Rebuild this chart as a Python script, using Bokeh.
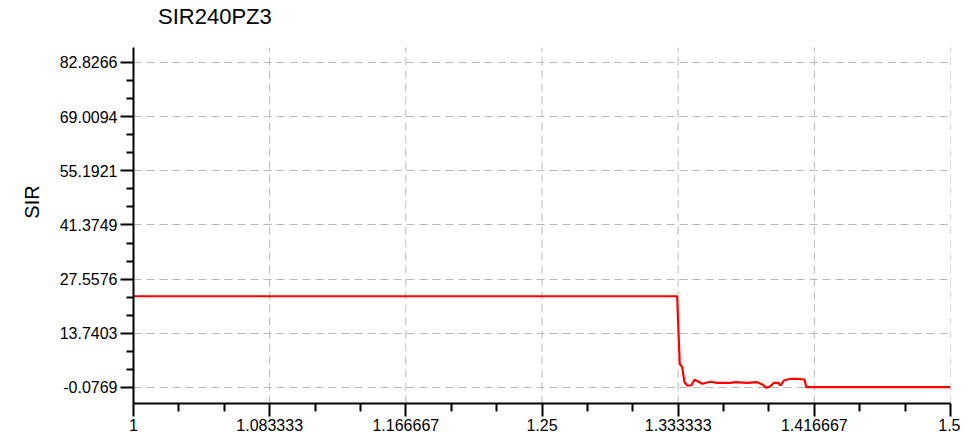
from bokeh.plotting import figure
from bokeh.models import Range1d, FixedTicker, Legend, LegendItem, CustomJSTickFormatter
from bokeh.embed import file_html
from bokeh.resources import INLINE

# data
series_name = "SIR240PZ3"
x_vals = [1.0, 1.3327, 1.3343, 1.3358, 1.3372, 1.3389, 1.3413, 1.3433, 1.3453, 1.3480,
          1.3531, 1.3572, 1.3654, 1.3684, 1.3756, 1.3817, 1.3848, 1.3874, 1.3898,
          1.3919, 1.3946, 1.3960, 1.3980, 1.4021, 1.4062, 1.4107, 1.4117, 1.5]
sir_vals = [23.2, 23.2, 5.97, 5.1, 1.28, 0.43, 0.43, 1.89, 1.53, 0.87,
            1.38, 1.12, 1.12, 1.28, 1.12, 1.28, 0.69, -0.15, 0.26,
            1.12, 1.12, 0.43, 1.71, 2.14, 2.14, 1.96, 0.0, 0.0]
x_ticks = [1.0, 1.083333, 1.166667, 1.25, 1.333333, 1.416667, 1.5]
x_tick_labels = ["1", "1.083333", "1.166667", "1.25", "1.333333", "1.416667", "1.5"]
y_ticks = [-0.0769, 13.7403, 27.5576, 41.3749, 55.1921, 69.0094, 82.8266]
y_tick_labels = ["-0.0769", "13.7403", "27.5576", "41.3749", "55.1921", "69.0094", "82.8266"]

# axis extent (value range of plotting area)
Y_LO, Y_HI = -4.16, 86.65
X_LO, X_HI = 1.0, 1.5

FONT = "Liberation Sans"

# frame extended upward to host the legend; axis/grid limited to [Y_LO, Y_HI]
FRAME_H = 403
px_per_unit = 356 / (Y_HI - Y_LO)
y_top = Y_LO + FRAME_H / px_per_unit

p = figure(frame_width=817, frame_height=FRAME_H, output_backend="svg", toolbar_location=None,
           x_range=Range1d(X_LO, X_HI), y_range=Range1d(Y_LO, y_top),
           min_border_left=133, min_border_right=10, min_border_top=0, min_border_bottom=35)
p.outline_line_color = None
p.xgrid.visible = False

# vertical dashed grid lines at x ticks (limited to axis extent)
p.segment(x0=x_ticks, y0=[Y_LO] * len(x_ticks), x1=x_ticks, y1=[Y_HI] * len(x_ticks),
          line_color="#b8b8b8", line_width=1, line_dash="8 5")

line = p.line(x_vals, sir_vals, line_color="#ff0000", line_width=2.2)
sq = p.quad(left=[], right=[], top=[], bottom=[], fill_color="#ff0000", line_color="#ff0000")

# minor ticks
x_minor = []
for i in range(len(x_ticks) - 1):
    step = (x_ticks[i + 1] - x_ticks[i]) / 3
    x_minor += [x_ticks[i] + step, x_ticks[i] + 2 * step]
y_minor = []
for i in range(len(y_ticks) - 1):
    step = (y_ticks[i + 1] - y_ticks[i]) / 3
    y_minor += [y_ticks[i] + step, y_ticks[i] + 2 * step]

p.xaxis.ticker = FixedTicker(ticks=x_ticks, minor_ticks=x_minor)
p.yaxis.ticker = FixedTicker(ticks=y_ticks, minor_ticks=y_minor)
p.yaxis.bounds = (Y_LO, Y_HI)

fmt_code = """
let best = 0, bd = Infinity;
for (let i = 0; i < tk.length; i++) {
  const d = Math.abs(tk[i] - tick);
  if (d < bd) { bd = d; best = i; }
}
return lb[best];
"""
p.xaxis.formatter = CustomJSTickFormatter(args=dict(tk=x_ticks, lb=x_tick_labels), code=fmt_code)
p.yaxis.formatter = CustomJSTickFormatter(args=dict(tk=y_ticks, lb=y_tick_labels), code=fmt_code)

for ax in (p.xaxis, p.yaxis):
    ax.axis_line_color = "black"
    ax.axis_line_width = 2
    ax.major_tick_line_color = "black"
    ax.major_tick_line_width = 2
    ax.minor_tick_line_color = "black"
    ax.minor_tick_line_width = 2
    ax.major_tick_in = 0
    ax.minor_tick_in = 0
    ax.major_label_text_font = FONT
    ax.major_label_text_font_size = "16px"
    ax.major_label_text_color = "black"

p.xaxis.major_tick_out = 13
p.xaxis.minor_tick_out = 8
p.yaxis.major_tick_out = 13
p.yaxis.minor_tick_out = 7
p.xaxis.major_label_standoff = 2
p.yaxis.major_label_standoff = 3

p.yaxis.axis_label = "SIR"
p.yaxis.axis_label_text_font = FONT
p.yaxis.axis_label_text_font_size = "20px"
p.yaxis.axis_label_text_font_style = "normal"
p.yaxis.axis_label_text_color = "black"
p.yaxis.axis_label_standoff = 14

p.ygrid.grid_line_color = "#b8b8b8"
p.ygrid.grid_line_dash = "8 5"

legend = Legend(items=[LegendItem(label=series_name, renderers=[sq])],
                location="top_left", orientation="horizontal",
                glyph_width=20, glyph_height=20, label_standoff=5,
                label_text_font=FONT, label_text_font_size="22px",
                label_text_color="black", label_height=34,
                border_line_color=None, background_fill_alpha=0,
                padding=0, margin=0)
p.add_layout(legend, "center")

open("out.html", "w").write(file_html(p, INLINE))
